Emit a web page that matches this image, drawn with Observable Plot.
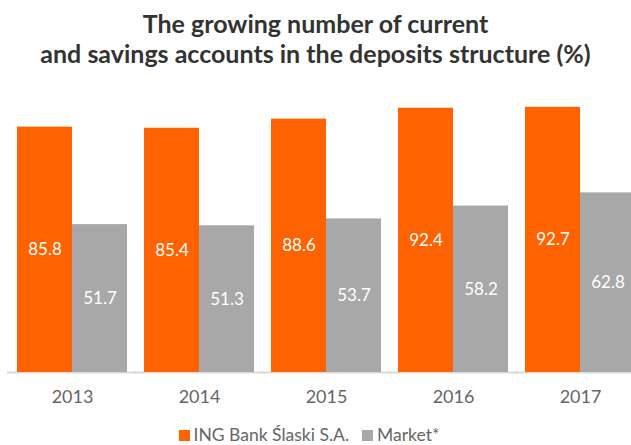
<!DOCTYPE html>
<html>
<head>
<meta charset="utf-8">
<script src="https://cdn.jsdelivr.net/npm/d3@7"></script>
<script src="https://cdn.jsdelivr.net/npm/@observablehq/plot@0.6"></script>
<style>
  html, body { margin: 0; padding: 0; background: #fff; overflow: hidden; }
  body { width: 631px; height: 445px; font-family: Lato, sans-serif; }
  #title { padding-top: 8px; height: 61px; text-align: center; font: bold 25px/30px Lato, sans-serif; color: #333; }
  #chart svg { display: block; overflow: hidden; }
  #legend { display: flex; justify-content: center; margin-top: 11px; height: 20px; }
  #legend > div { justify-content: center; font: 17.5px/18px Lato, sans-serif; color: #666; margin: 0; min-height: 0; }
  #legend span { margin-right: 13px; }
  #legend span svg { margin-right: 4px; }
</style>
</head>
<body>
<div id="title">The growing number of current<br>and savings accounts in the deposits structure (%)</div>
<div id="chart"></div>
<div id="legend"></div>
<script>
const years = ["2013", "2014", "2015", "2016", "2017"];
const series = ["ING Bank Ślaski S.A.", "Market*"];
const ingValues = [85.8, 85.4, 88.6, 92.4, 92.7];
const marketValues = [51.7, 51.3, 53.7, 58.2, 62.8];
const colors = ["#FF6200", "#A8A8A8"];

const data = years.flatMap((year, i) => [
  {year, series: series[0], value: ingValues[i]},
  {year, series: series[1], value: marketValues[i]}
]);

const plot = Plot.plot({
  width: 631,
  height: 345,
  marginTop: 17,
  marginBottom: 42,
  marginLeft: 15,
  marginRight: -6,
  style: {fontFamily: "Lato, sans-serif", fontSize: "18px", color: "#666", background: "white"},
  fx: {domain: years, paddingInner: 0.133, paddingOuter: 0, axis: "bottom", tickSize: 0, tickPadding: 18, label: null},
  x: {domain: series, padding: 0, axis: null},
  y: {domain: [0, 100], axis: null},
  color: {domain: series, range: colors},
  marks: [
    Plot.ruleY([0], {stroke: "#d9d9d9", strokeWidth: 2, insetLeft: -10, insetRight: -10}),
    Plot.barY(data, {fx: "year", x: "series", y: "value", fill: "series"}),
    Plot.text(data, {fx: "year", x: "series", y: d => d.value / 2, text: d => d.value.toFixed(1), fill: "white", fontSize: 17})
  ]
});
document.getElementById("chart").appendChild(plot);

const legend = plot.legend("color", {swatchSize: 11});
document.getElementById("legend").appendChild(legend);
</script>
</body>
</html>
